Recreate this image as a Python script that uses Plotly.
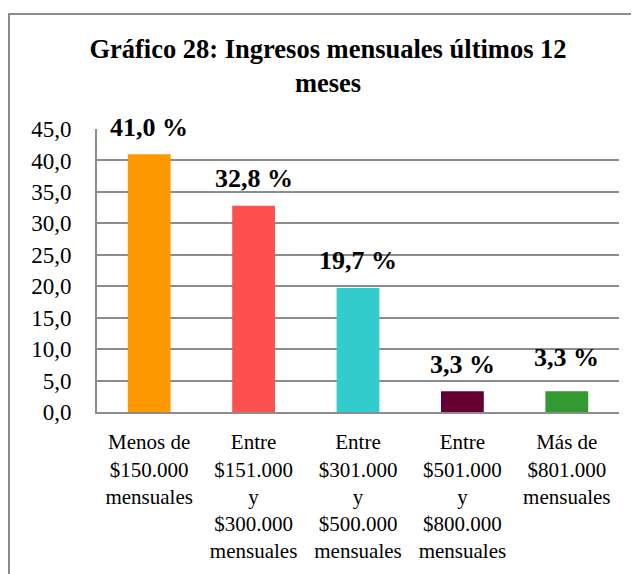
import plotly.graph_objects as go

categories = ["Menos de<br>$150.000<br>mensuales",
              "Entre<br>$151.000<br>y<br>$300.000<br>mensuales",
              "Entre<br>$301.000<br>y<br>$500.000<br>mensuales",
              "Entre<br>$501.000<br>y<br>$800.000<br>mensuales",
              "Más de<br>$801.000<br>mensuales"]
values = [41.0, 32.8, 19.7, 3.3, 3.3]
labels = ["41,0 %", "32,8 %", "19,7 %", "3,3 %", "3,3 %"]
colors = ["#FF9900", "#FF5050", "#33CCCC", "#660033", "#339933"]
label_shift = [27, 27, 28, 27, 34]
yticks = [0, 5, 10, 15, 20, 25, 30, 35, 40, 45]

FONT = "Liberation Serif, Times New Roman, serif"
# page body has an 8px default margin; figure sized to fit the window
W, H = 631, 566
L, R, T, B = 89, 20, 121, 162
pw, ph = W - L - R, H - T - B

fig = go.Figure(go.Bar(x=list(range(5)), y=values, marker_color=colors,
                       width=0.41, marker_line_width=0))

for i, (v, t, s) in enumerate(zip(values, labels, label_shift)):
    fig.add_annotation(x=i, y=v, text="<b>" + t + "</b>", showarrow=False,
                       yanchor="middle", yshift=s,
                       font=dict(family=FONT, size=26, color="black"))

def px(x):
    return (x - L) / pw

def py(y):
    return (H - B - y) / ph

fig.add_shape(type="rect", xref="paper", yref="paper",
              x0=px(1), x1=px(660), y0=py(600), y1=py(6),
              line=dict(color="#8c8c8c", width=2), fillcolor="rgba(0,0,0,0)", layer="below")

fig.update_layout(
    width=W, height=H,
    margin=dict(l=L, r=R, t=T, b=B, autoexpand=False),
    paper_bgcolor="white", plot_bgcolor="white",
    separators=", ",
    showlegend=False,
    title=dict(text="<b>Gráfico 28: Ingresos mensuales últimos 12<br>meses</b>",
               x=320 / W, xanchor="center", y=1 - 50 / H, yanchor="middle",
               font=dict(family=FONT, size=26.5, color="black")),
    font=dict(family=FONT, color="black"),
)
fig.update_xaxes(tickvals=list(range(5)), ticktext=categories, range=[-0.5, 4.5],
                 showline=True, linecolor="#8c8c8c", linewidth=2, ticks="",
                 ticklabelstandoff=10,
                 tickfont=dict(family=FONT, size=21, color="black"),
                 showgrid=False, zeroline=False)
fig.update_yaxes(range=[0, 45], tickvals=yticks, tickformat=".1f",
                 showline=True, linecolor="#8c8c8c", linewidth=2,
                 showgrid=True, gridcolor="#8c8c8c", gridwidth=1.5, zeroline=False,
                 ticks="", ticklabelstandoff=19,
                 tickfont=dict(family=FONT, size=23, color="black"))

fig.write_html("out.html")
